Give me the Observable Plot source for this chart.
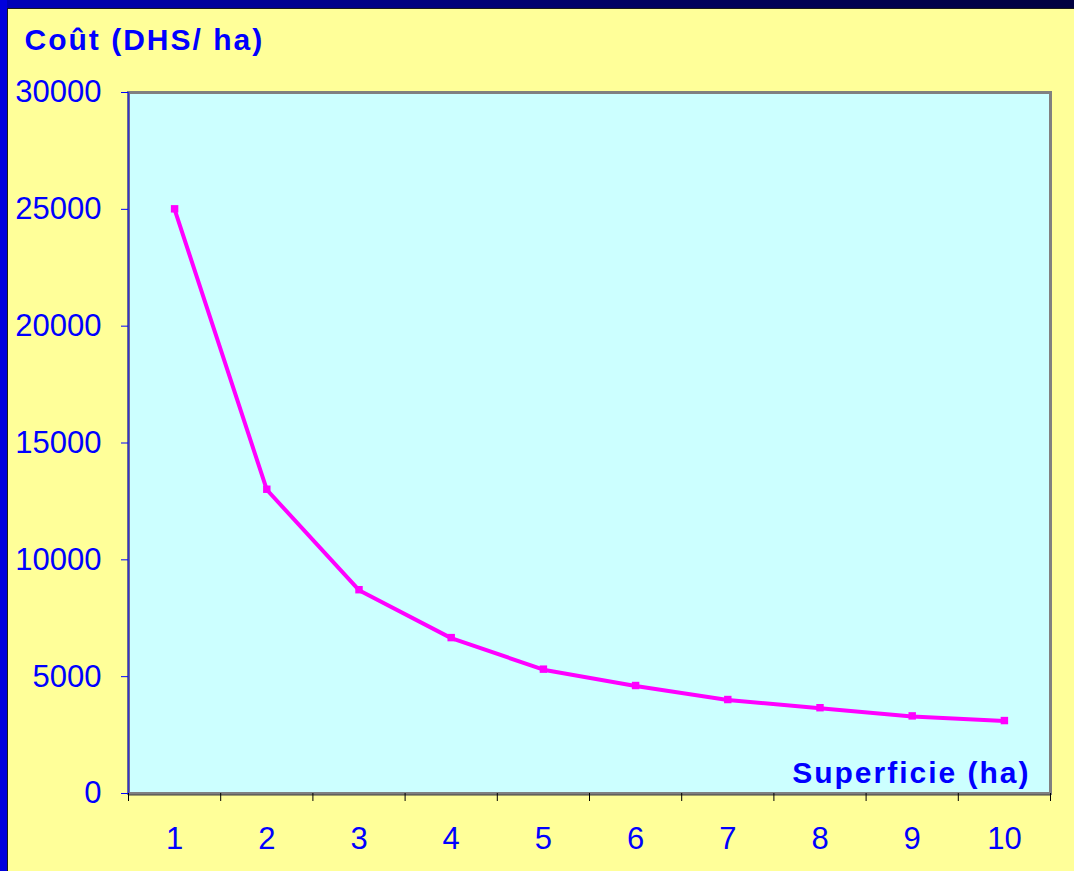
<!DOCTYPE html>
<html><head><meta charset="utf-8">
<script src="https://cdn.jsdelivr.net/npm/d3@7"></script>
<script src="https://cdn.jsdelivr.net/npm/@observablehq/plot@0.6"></script>
<style>
html,body{margin:0;padding:0;background:#ffff99;overflow:hidden;width:1074px;height:871px}
#topbar{position:absolute;left:0;top:0;width:1074px;height:8px;background:linear-gradient(to right,#0000b8,#000060 60%,#000040);}
#topline{position:absolute;left:7px;top:8px;width:1067px;height:1px;background:#1a1a1a}
#leftbar{position:absolute;left:0;top:0;width:7px;height:871px;background:#0000dd}
#leftline{position:absolute;left:7px;top:8px;width:1px;height:863px;background:#1a1a1a}
#chart{position:absolute;left:8px;top:9px}
</style>
</head><body>
<div id="topbar"></div><div id="leftbar"></div><div id="topline"></div><div id="leftline"></div>
<div id="chart"></div>
<script>
const superficie = [1, 2, 3, 4, 5, 6, 7, 8, 9, 10];
const cout = [25000, 13000, 8700, 6650, 5300, 4600, 4000, 3650, 3300, 3100];
const yTicks = [0, 5000, 10000, 15000, 20000, 25000, 30000];
const yTitle = "Coût (DHS/ ha)";
const xTitle = "Superficie (ha)";

const data = superficie.map((s, i) => ({s, c: cout[i]}));
const xDomain = [superficie[0] - 0.5, superficie[superficie.length - 1] + 0.5];
const boundaries = superficie.map(d => d - 0.5).concat([xDomain[1]]);
const blue = "#0000ff";

const chart = Plot.plot({
  width: 1066, height: 862,
  marginLeft: 120, marginRight: 24, marginTop: 83, marginBottom: 78,
  style: {background: "transparent", color: blue, fontFamily: "'Liberation Sans', Arial, sans-serif"},
  x: {type: "linear", domain: xDomain},
  y: {domain: [0, 30000]},
  marks: [
    Plot.frame({fill: "#ccffff", stroke: "none"}),
    Plot.line(data, {x: "s", y: "c", stroke: "#ff00ff", strokeWidth: 4}),
    Plot.dot(data, {x: "s", y: "c", symbol: "square", fill: "#ff00ff", stroke: "none", r: 4.2, dy: -0.5}),
    Plot.frame({stroke: "#808080", strokeWidth: 3, fill: "none"}),
    Plot.ruleX([xDomain[0]], {stroke: "#3333cc", strokeWidth: 1.5}),
    Plot.ruleY([0], {stroke: "#404040", strokeWidth: 1, dy: 1.5}),
    Plot.axisY({ticks: yTicks, tickSize: 7, tickPadding: 20, tickFormat: d => String(d), fontSize: 31, color: blue, label: null}),
    Plot.axisX({ticks: boundaries, tickSize: 8, tickFormat: () => "", color: "#000", label: null}),
    Plot.axisX({ticks: superficie, tickSize: 0, tickPadding: 33, fontSize: 31, color: blue, label: null, tickFormat: d => String(d)}),
    Plot.text([yTitle], {text: d => d, frameAnchor: "top-left", dx: -104, dy: -43, lineAnchor: "bottom", textAnchor: "start", fontSize: 30, fontWeight: "bold", fill: blue}),
    Plot.text([xTitle], {text: d => d, frameAnchor: "bottom-right", dx: -20, dy: -11, lineAnchor: "bottom", textAnchor: "end", fontSize: 30, fontWeight: "bold", fill: blue})
  ]
});
chart.querySelectorAll("text").forEach(t => {
  if (t.textContent === yTitle || t.textContent === xTitle) t.setAttribute("letter-spacing", "2");
});
document.getElementById("chart").appendChild(chart);
</script>
</body></html>
